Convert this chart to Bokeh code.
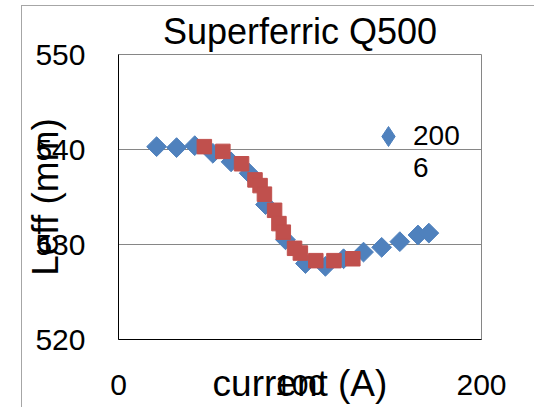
import math
from bokeh.plotting import figure
from bokeh.models import FixedTicker, Range1d, Legend, LegendItem, ColumnDataSource
from bokeh.embed import file_html
from bokeh.resources import INLINE

# ---- data ----
title_text = "Superferric Q500"
x_label = "current (A)"
y_label = "Leff (mm)"
x_ticks = [0, 100, 200]
y_ticks = [520, 530, 540, 550]

series_2006_label = "\n200\n6"   # the legend entry "2006" wraps onto two lines
current_2006 = [21, 32, 42, 52, 62, 72, 81, 92, 103, 114, 124, 135, 145, 155, 165, 171]
leff_2006 = [540.3, 540.2, 540.4, 539.6, 538.7, 537.5, 534.2, 530.5, 528.0, 527.7,
             528.5, 529.2, 529.7, 530.3, 531.0, 531.2]

current_2 = [47.3, 57.5, 67.8, 75.2, 78.0, 80.4, 86.0, 88.4, 90.8, 97.0, 100.2, 108.7, 118.7, 129.1]
leff_2 = [540.3, 539.8, 538.5, 536.8, 536.2, 535.3, 533.6, 532.2, 531.3, 529.6, 529.1,
          528.3, 528.3, 528.5]

FONT = "Liberation Sans"
BLUE = "#4F81BD"
RED = "#C0504D"

p = figure(width=513, height=402,
           x_range=Range1d(0, 200), y_range=Range1d(520, 550),
           output_backend="svg", toolbar_location=None,
           min_border_left=94, min_border_right=54,
           min_border_top=48, min_border_bottom=69,
           title=title_text)
p.styles = {"margin-left": "21px", "margin-top": "5px",
            "border-left": "1px solid #a6a6a6", "border-top": "1px solid #a6a6a6"}

p.title.text_font = FONT
p.title.text_font_size = "36px"
p.title.text_font_style = "normal"
p.title.text_color = "black"
p.title.align = "center"
p.title.standoff = 5

p.outline_line_color = "#868686"
p.background_fill_color = "white"
p.border_fill_color = "white"

p.xgrid.visible = False
p.ygrid.grid_line_color = "#868686"
p.ygrid.grid_line_width = 1

for ax in (p.xaxis, p.yaxis):
    ax.axis_line_color = "black"
    ax.major_tick_line_color = None
    ax.minor_tick_line_color = None
    ax.major_tick_out = 0
    ax.major_tick_in = 0
    ax.minor_tick_out = 0
    ax.minor_tick_in = 0
    ax.major_label_text_font = FONT
    ax.major_label_text_font_size = "30px"
    ax.major_label_text_color = "black"
    ax.axis_label_text_font = FONT
    ax.axis_label_text_font_size = "37px"
    ax.axis_label_text_font_style = "normal"
    ax.axis_label_text_color = "black"

p.xaxis.ticker = FixedTicker(ticks=x_ticks)
p.yaxis.ticker = FixedTicker(ticks=y_ticks)
p.xaxis.axis_label = x_label
p.yaxis.axis_label = y_label
p.xaxis.major_label_standoff = 35
p.yaxis.major_label_standoff = 33
p.xaxis.axis_label_standoff = -35
p.yaxis.axis_label_standoff = -34

src1 = ColumnDataSource(dict(x=current_2006, y=leff_2006))
src2 = ColumnDataSource(dict(x=current_2, y=leff_2))

r_blue = p.scatter("x", "y", source=src1, marker="square", angle=math.pi / 4, size=14,
                   fill_color=BLUE, line_color=BLUE)
r_red = p.scatter("x", "y", source=src2, marker="square", size=14.5,
                  fill_color=RED, line_color=RED)

# legend swatch: same series drawn as a diamond (hidden in the plot itself)
r_key = p.scatter("x", "y", source=src1, marker="diamond", fill_color=BLUE,
                  line_color=BLUE, visible=False)

legend = Legend(items=[LegendItem(label=series_2006_label, renderers=[r_key])],
                location=(245, 155), padding=0, margin=0, spacing=0,
                border_line_color=None, background_fill_alpha=0,
                inactive_fill_alpha=0, click_policy="none",
                glyph_width=50, glyph_height=50, label_standoff=0,
                label_text_font=FONT, label_text_font_size="28px",
                label_text_color="black")
p.add_layout(legend)

open("out.html", "w").write(file_html(p, INLINE))
